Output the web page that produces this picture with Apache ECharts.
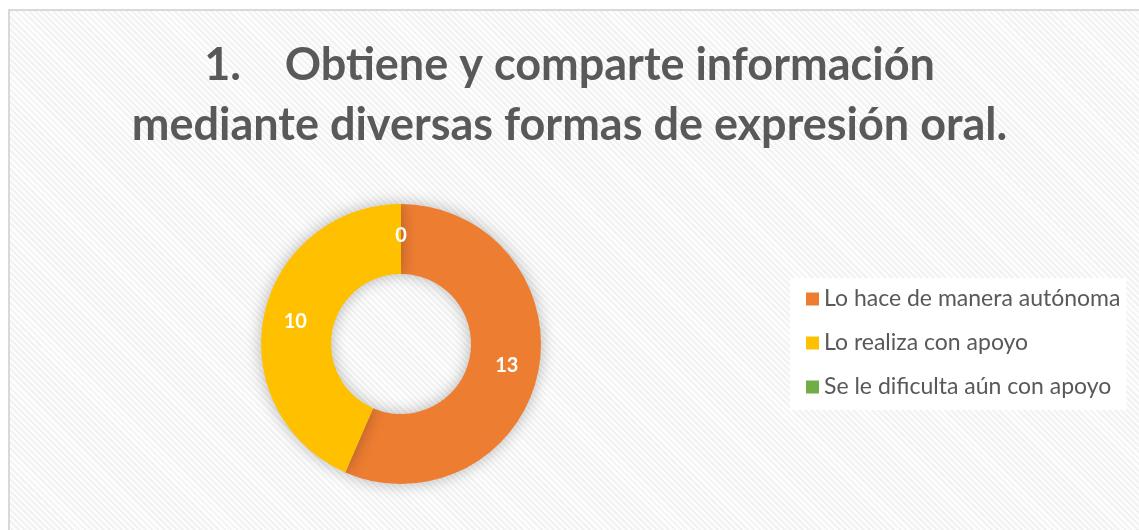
<!DOCTYPE html>
<html>
<head>
<meta charset="utf-8">
<script src="https://cdn.jsdelivr.net/npm/echarts@6/dist/echarts.min.js"></script>
<style>
    html, body { margin: 0; padding: 0; background: #fff; }
    #frame {
        position: absolute; left: 8px; top: 9px; width: 1140px; height: 530px;
        border-left: 2px solid #d9d9d9; border-top: 2px solid #d9d9d9;
        background: repeating-linear-gradient(45deg, #f2f2f2 0px, #f2f2f2 2px, #fdfdfd 2px, #fdfdfd 4.3px);
    }
    #chart { position: absolute; left: 0; top: 0; width: 1139px; height: 530px; }
</style>
</head>
<body>
<div id="frame"></div>
<div id="chart"></div>
<script>
const titleLines = ["1.    Obtiene y comparte información", "mediante diversas formas de expresión oral."];
const categories = ["Lo hace de manera autónoma", "Lo realiza con apoyo", "Se le dificulta aún con apoyo"];
const values = [13, 10, 0];
const colors = ["#ed7d31", "#ffc000", "#70ad47"];

let chart = echarts.init(document.getElementById("chart"));
let option = {
    backgroundColor: "transparent",
    title: {
        text: titleLines.join("\n"),
        left: "center",
        top: 30,
        textStyle: {
            fontFamily: "Lato",
            fontWeight: "bold",
            fontSize: 45,
            lineHeight: 60,
            color: "#595959",
        },
    },
    legend: {
        orient: "vertical",
        left: 790,
        top: 278,
        backgroundColor: "#ffffff",
        padding: [9, 6, 11, 16],
        icon: "rect",
        itemWidth: 13,
        itemHeight: 13,
        itemGap: 20,
        data: categories,
        textStyle: {
            fontFamily: "Lato",
            fontSize: 23,
            lineHeight: 24,
            color: "#595959",
        },
    },
    series: [
        {
            type: "pie",
            center: [401, 344],
            radius: [70, 140],
            startAngle: 90,
            clockwise: true,
            avoidLabelOverlap: false,
            color: colors,
            itemStyle: {
                shadowBlur: 16,
                shadowColor: "rgba(0,0,0,0.28)",
            },
            label: {
                show: true,
                position: "inside",
                formatter: "{c}",
                color: "#ffffff",
                fontFamily: "Lato",
                fontWeight: "bold",
                fontSize: 20,
            },
            labelLine: { show: false },
            emphasis: { disabled: true },
            data: categories.map((c, i) => ({ name: c, value: values[i] })),
        },
    ],
};
chart.setOption(option);
</script>
</body>
</html>
